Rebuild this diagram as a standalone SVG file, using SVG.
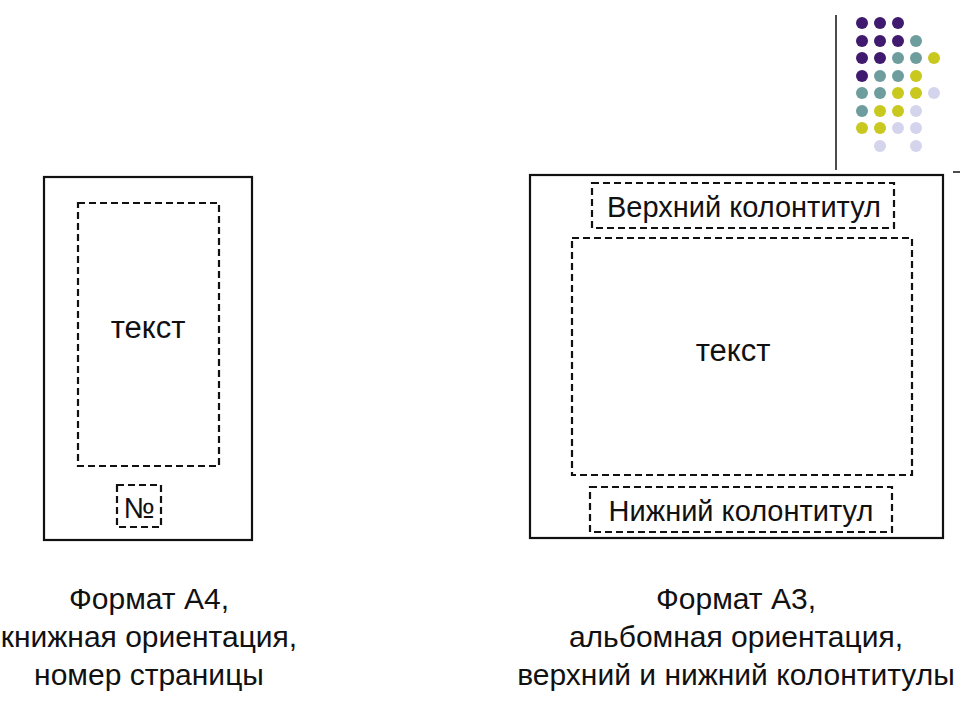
<svg xmlns="http://www.w3.org/2000/svg" width="960" height="720" viewBox="0 0 960 720">
<style>
.pg{fill:none;stroke:#111;stroke-width:2.2}
.d{fill:none;stroke:#111;stroke-width:2.2;stroke-dasharray:7,4}
.t{font-family:"Liberation Sans",Arial,sans-serif;fill:#111;text-anchor:middle}
.P{fill:#3f1a6e}.T{fill:#6e9d9d}.Y{fill:#c8c81e}.L{fill:#d4d4ec}
</style>
<rect width="960" height="720" fill="#fff"/>
<g id="deco">
<line x1="836" y1="15" x2="836" y2="170" stroke="#111" stroke-width="1.5"/>
<line x1="953" y1="172" x2="960" y2="172" stroke="#111" stroke-width="1.5"/>
<g>
<circle class="P" cx="862" cy="23" r="6"/><circle class="P" cx="880" cy="23" r="6"/><circle class="P" cx="898" cy="23" r="6"/>
<circle class="P" cx="862" cy="41" r="6"/><circle class="P" cx="880" cy="41" r="6"/><circle class="P" cx="898" cy="41" r="6"/><circle class="T" cx="916" cy="41" r="6"/>
<circle class="P" cx="862" cy="58" r="6"/><circle class="P" cx="880" cy="58" r="6"/><circle class="T" cx="898" cy="58" r="6"/><circle class="T" cx="916" cy="58" r="6"/><circle class="Y" cx="934" cy="58" r="6"/>
<circle class="P" cx="862" cy="76" r="6"/><circle class="T" cx="880" cy="76" r="6"/><circle class="T" cx="898" cy="76" r="6"/><circle class="Y" cx="916" cy="76" r="6"/>
<circle class="T" cx="862" cy="93" r="6"/><circle class="T" cx="880" cy="93" r="6"/><circle class="Y" cx="898" cy="93" r="6"/><circle class="Y" cx="916" cy="93" r="6"/><circle class="L" cx="934" cy="93" r="6"/>
<circle class="T" cx="862" cy="111" r="6"/><circle class="Y" cx="880" cy="111" r="6"/><circle class="Y" cx="898" cy="111" r="6"/><circle class="L" cx="916" cy="111" r="6"/>
<circle class="Y" cx="862" cy="128" r="6"/><circle class="Y" cx="880" cy="128" r="6"/><circle class="L" cx="898" cy="128" r="6"/><circle class="L" cx="916" cy="128" r="6"/>
<circle class="L" cx="880" cy="146" r="6"/><circle class="L" cx="916" cy="146" r="6"/>
</g>
</g>
<g id="a4">
<rect class="pg" x="44" y="177" width="208" height="363"/>
<rect class="d" x="78" y="203" width="141" height="263"/>
<text class="t" x="148" y="338" font-size="31">текст</text>
<rect class="d" x="117" y="485" width="44" height="42"/>
<text class="t" x="139" y="518" font-size="29">№</text>
<text class="t" x="149" y="609" font-size="30">Формат А4,</text>
<text class="t" x="149" y="647" font-size="30">книжная ориентация,</text>
<text class="t" x="149" y="685" font-size="30">номер страницы</text>
</g>
<g id="a3">
<rect class="pg" x="530" y="175" width="413" height="363"/>
<rect class="d" x="592" y="183" width="302" height="45"/>
<text class="t" x="744" y="217" font-size="29">Верхний колонтитул</text>
<rect class="d" x="572" y="238" width="340" height="237"/>
<text class="t" x="733" y="361" font-size="31">текст</text>
<rect class="d" x="590" y="487" width="302" height="45"/>
<text class="t" x="741" y="521" font-size="29">Нижний колонтитул</text>
<text class="t" x="736" y="609" font-size="30">Формат А3,</text>
<text class="t" x="736" y="647" font-size="30">альбомная ориентация,</text>
<text class="t" x="736" y="685" font-size="30">верхний и нижний колонтитулы</text>
</g>
<g id="connectors"/>
</svg>
